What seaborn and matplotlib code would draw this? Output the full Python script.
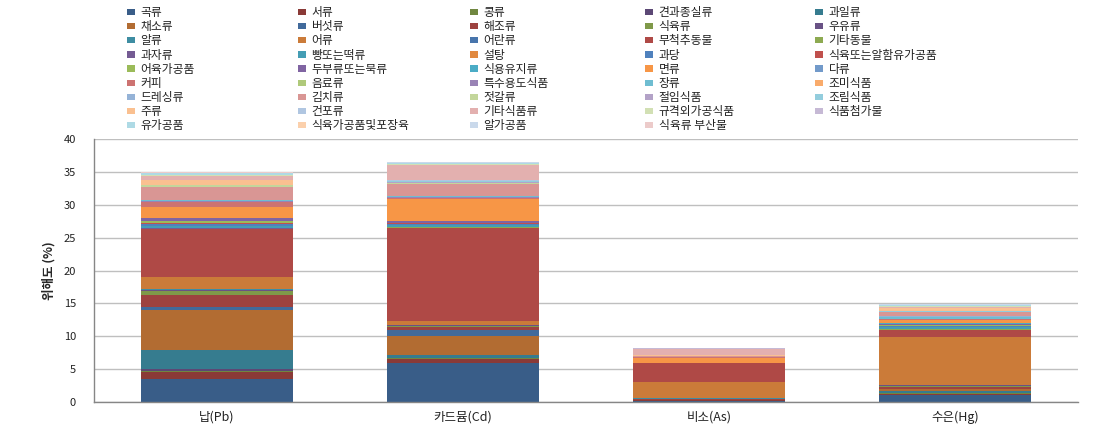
import matplotlib
matplotlib.use("Agg")
import matplotlib.pyplot as plt
import numpy as np
import seaborn as sns
from matplotlib.colors import to_rgb
from matplotlib.patches import Patch

# categories
metals = ["납(Pb)", "카드뮴(Cd)", "비소(As)", "수은(Hg)"]
foods = [
    "곡류", "서류", "콩류", "견과종실류", "과일류",
    "채소류", "버섯류", "해조류", "식육류", "우유류",
    "알류", "어류", "어란류", "무척추동물", "기타동물",
    "과자류", "빵또는떡류", "설탕", "과당", "식육또는알함유가공품",
    "어육가공품", "두부류또는묵류", "식용유지류", "면류", "다류",
    "커피", "음료류", "특수용도식품", "장류", "조미식품",
    "드레싱류", "김치류", "젓갈류", "절임식품", "조림식품",
    "주류", "건포류", "기타식품류", "규격외가공식품", "식품첨가물",
    "유가공품", "식육가공품및포장육", "알가공품", "식육류 부산물",
]

# contribution (%) of each food group, same order as foods
pb_vals = [3.5, 1.06, 0.25, 0.2, 2.9, 6.1, 0.45, 1.8, 0.65, 0.1,
           0.15, 1.8, 0.05, 7.3, 0.05, 0.05, 0.35, 0.05, 0.25, 0.1,
           0.3, 0.5, 0.05, 1.6, 0.05, 0.7, 0.1, 0.05, 0.15, 0.05,
           0.05, 1.9, 0.3, 0.05, 0.05, 0.7, 0.05, 0.6, 0.05, 0.05,
           0.25, 0.05, 0.05, 0.05]
cd_vals = [6.0, 0.5, 0.15, 0.1, 0.45, 2.8, 0.9, 0.5, 0.25, 0.05,
           0.05, 0.6, 0.05, 14.1, 0.05, 0.1, 0.2, 0.05, 0.2, 0.05,
           0.15, 0.2, 0.05, 3.3, 0.05, 0.1, 0.05, 0.05, 0.2, 0.05,
           0.05, 1.7, 0.25, 0.1, 0.1, 0.05, 0.2, 2.3, 0.1, 0.05,
           0.1, 0.05, 0.05, 0.05]
as_vals = [0.25, 0.03, 0.01, 0.01, 0.02, 0.03, 0.01, 0.18, 0.01, 0.01,
           0.01, 2.5, 0.02, 2.8, 0.01, 0.01, 0.01, 0.01, 0.01, 0.01,
           0.01, 0.01, 0.01, 0.8, 0.01, 0.01, 0.01, 0.01, 0.01, 0.01,
           0.02, 0.1, 0.08, 0.02, 0.02, 0.03, 0.02, 1.0, 0.02, 0.02,
           0.02, 0.02, 0.02, 0.02]
hg_vals = [1.05, 0.15, 0.15, 0.05, 0.3, 0.3, 0.05, 0.2, 0.25, 0.05,
           0.1, 7.2, 0.03, 1.07, 0.1, 0.1, 0.25, 0.05, 0.1, 0.1,
           0.15, 0.1, 0.1, 0.5, 0.05, 0.05, 0.05, 0.05, 0.2, 0.1,
           0.05, 0.6, 0.05, 0.05, 0.05, 0.45, 0.1, 0.15, 0.05, 0.1,
           0.1, 0.05, 0.1, 0.05]

y_ticks = [0, 5, 10, 15, 20, 25, 30, 35, 40]


def _excel_colors(n: int) -> list:
    """Office 2007 style series colours: dark shades first, then tints."""
    base = ["#4F81BD", "#C0504D", "#9BBB59", "#8064A2", "#4BACC6", "#F79646"]
    shades = [0.72, 0.82, 0.91, 1.0]
    tints = [0.2, 0.4, 0.55, 0.7]
    out = []
    for i in range(n):
        g, k = divmod(i, 6)
        c = np.array(to_rgb(base[k]))
        if g < len(shades):
            c = c * shades[g]
        else:
            t = tints[g - len(shades)]
            c = c + (1 - c) * t
        out.append(tuple(c))
    return out


sns.set_theme(style="white")
plt.rcParams["font.family"] = ["Noto Sans CJK KR", "DejaVu Sans"]

colors = _excel_colors(len(foods))

fig = plt.figure(figsize=(10.98, 4.41), dpi=100)
ax = fig.add_axes([0.0856, 0.088, 0.8964, 0.597])

table = np.array([pb_vals, cd_vals, as_vals, hg_vals])
bottom = np.zeros(len(metals))
for i, food in enumerate(foods):
    vals = table[:, i]
    sns.barplot(x=metals, y=vals, order=metals, color=colors[i], saturation=1,
                width=0.62, bottom=bottom.copy(), errorbar=None, linewidth=0, ax=ax)
    bottom += vals

ax.set_ylim(0, 40)
ax.set_yticks(y_ticks)
ax.set_xlim(-0.5, len(metals) - 0.5)
ax.yaxis.grid(True, color="#BFBFBF", linewidth=1)
ax.set_axisbelow(True)
for side in ["top", "right"]:
    ax.spines[side].set_visible(False)
for side in ["left", "bottom"]:
    ax.spines[side].set_color("#868686")
    ax.spines[side].set_linewidth(1)
ax.tick_params(axis="y", length=5, color="#868686", labelsize=8, pad=8, labelcolor="#222222")
ax.tick_params(axis="x", length=0, labelsize=9, pad=6, labelcolor="#222222")
ax.set_xlabel("")
ax.set_ylabel("위해도 (%)", fontsize=9, fontweight="bold", labelpad=6)

# legend: 5 columns, row-major order
col_x = [127, 298, 470, 645, 815]
handles = [Patch(facecolor=c, edgecolor="none") for c in colors]
for col in range(5):
    idx = list(range(col, len(foods), 5))
    leg = fig.legend([handles[j] for j in idx], [foods[j] for j in idx],
                     loc="upper left", bbox_to_anchor=(col_x[col] / 1098, 1 - 6 / 441),
                     frameon=False, fontsize=8.5, handlelength=0.65, handleheight=0.45,
                     handletextpad=0.5, labelspacing=0.1, borderpad=0, borderaxespad=0)
    for t in leg.get_texts():
        t.set_color("#222222")

fig.savefig("out.png", dpi=100)
